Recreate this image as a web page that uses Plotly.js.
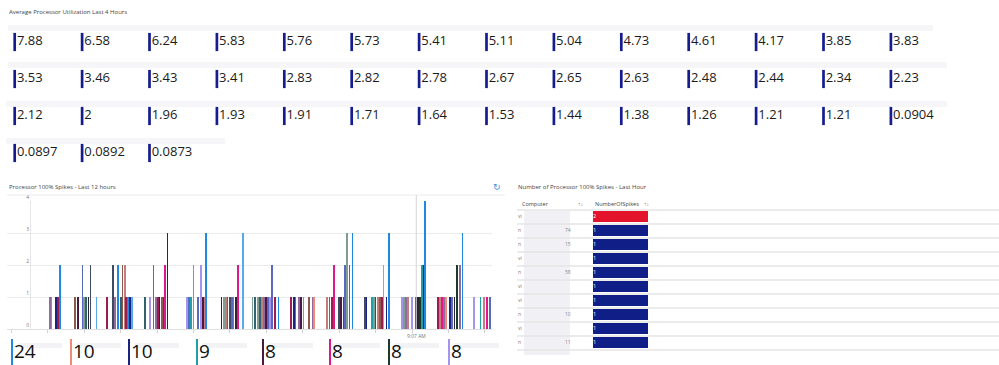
<!DOCTYPE html>
<html><head><meta charset="utf-8">
<script src="https://cdn.plot.ly/plotly-3.0.1.min.js"></script>
<style>html,body{margin:0;padding:0;background:#fff;overflow:hidden}#chart{width:999px;height:365px}</style>
</head><body><div id="chart"></div>
<script>
// ================= DATA =================
// Top tiles: average processor utilization (last 4 hours), sorted
const utilValues = [7.88,6.58,6.24,5.83,5.76,5.73,5.41,5.11,5.04,4.73,4.61,4.17,3.85,3.83,
  3.53,3.46,3.43,3.41,2.83,2.82,2.78,2.67,2.65,2.63,2.48,2.44,2.34,2.23,
  2.12,2,1.96,1.93,1.91,1.71,1.64,1.53,1.44,1.38,1.26,1.21,1.21,0.0904,
  0.0897,0.0892,0.0873];

// Spikes chart (last 12 hours): time of bar, spike count, series (computer) index
const spikeTime = ["23:03","23:06","23:13","23:16","23:20","23:45","23:49","23:57","00:00","00:03",
  "00:07","00:10","00:20","00:38","00:47","00:51","00:56","01:00","01:03","01:07",
  "01:09","01:12","01:15","01:19","01:40","01:48","01:54","01:58","02:01","02:04",
  "02:08","02:11","02:13","02:17","02:49","02:53","02:56","03:00","03:07","03:12",
  "03:15","03:18","03:21","03:46","03:50","03:53","03:56","04:00","04:03","04:06",
  "04:10","04:13","04:21","04:37","04:41","04:46","04:49","04:53","04:56","05:00",
  "05:03","05:06","05:09","05:14","05:20","05:40","05:45","05:48","05:54","05:57",
  "06:01","06:10","06:16","06:19","06:40","06:44","06:48","06:51","07:00","07:03",
  "07:07","07:10","07:13","07:17","07:22","07:42","07:45","07:54","07:57","08:00",
  "08:04","08:07","08:10","08:13","08:18","08:22","08:44","08:47","08:50","08:54",
  "09:00","09:07","09:10","09:13","09:17","09:19","09:22","09:43","09:46","09:50",
  "09:53","09:56","10:03","10:06","10:10","10:14","10:19","10:23","10:42","10:53",
  "10:58","11:03","11:08"];
const spikeCount = [1,1,1,1,2,1,1,2,1,1,
  1,2,1,1,2,1,2,1,2,2,
  1,1,1,1,1,1,2,1,1,1,
  1,1,2,3,1,1,1,2,1,2,
  1,1,3,1,1,1,1,1,1,1,
  1,2,3,1,1,1,1,1,1,1,
  1,1,2,1,1,1,1,1,1,1,
  1,1,1,1,1,1,1,2,1,1,
  1,2,3,2,3,1,1,1,1,1,
  1,1,1,2,1,3,1,1,1,1,
  1,1,1,1,2,2,4,1,1,1,
  1,1,1,1,1,2,2,3,1,1,
  1,1,1];
const spikeSeries = [8,12,2,16,0,9,4,13,10,15,
  17,11,14,16,11,8,0,15,9,12,
  16,0,2,14,15,7,13,8,16,2,
  9,11,5,2,7,13,3,10,13,7,
  4,12,0,17,10,12,9,11,13,8,
  17,5,14,10,15,10,15,12,8,4,
  13,7,13,16,0,16,2,13,8,4,
  10,9,8,1,12,9,16,5,11,4,
  11,13,10,9,0,11,2,3,10,11,
  12,9,16,7,2,0,7,10,8,12,
  7,11,17,6,3,2,0,16,12,5,
  8,1,2,13,17,6,8,0,7,3,
  12,5,13];

// Legend of the spikes chart (top computers, total spikes)
const legendCounts = [24,10,10,9,8,8,8,8];
const legendSeries = [0,1,2,3,4,5,6,7];

// Table: number of processor 100% spikes - last hour
const tableComputerPrefix = ["vi","n","n","vi","n","vi","vi","n","vi","n"];
const tableComputerSuffix = ["","74","15","","58","","","10","","11"];
const tableSpikes = [2,1,1,1,1,1,1,1,1,1];

// ================= STYLE =================
const seriesColors = ['#1f88e5','#ef8a76','#1a237e','#1fa0a8','#4a1942','#e0168c','#1c3a2c','#a394ee',
  '#8f6b9e','#8b5a4e','#7f9e8f','#3e4a62','#c47c7c','#5a68c2','#58a9e8','#2e6470','#9c1c4f','#2d2433'];
const FONT = 'Segoe UI, "Open Sans", "Noto Sans", sans-serif';
const W = 999, H = 365;
const px = x => x / W, py = y => 1 - y / H;
const LEGEND_X = [12, 71, 129, 197, 263, 330, 389, 449];
const TILE_PITCH = 67.4, TILE_TEXT_GAP = 2.2;

function toDate(t){ const h = parseInt(t.slice(0,2),10); return (h >= 12 ? '2024-05-12 ' : '2024-05-13 ') + t; }

const traces = [];

// Main bar chart
traces.push({
  type:'bar', x: spikeTime.map(toDate), y: spikeCount,
  marker:{color: spikeSeries.map(s => seriesColors[s]), line:{width:0}},
  width: 175000, xaxis:'x', yaxis:'y', hoverinfo:'skip'
});

// Tiles
const tileCol = utilValues.map((v,i)=> i % 14);
const tileRow = utilValues.map((v,i)=> Math.floor(i / 14));
traces.push({
  type:'scatter', mode:'markers', x: tileCol, y: tileRow, xaxis:'x2', yaxis:'y2',
  marker:{symbol:'line-ns', size:13, line:{width:2.7, color:'#141c8e'}}, hoverinfo:'skip'
});
traces.push({
  type:'scatter', mode:'text', x: tileCol.map(c => c + TILE_TEXT_GAP / TILE_PITCH), y: tileRow, xaxis:'x2', yaxis:'y2',
  text: utilValues.map(v => String(v)), textposition:'middle right',
  textfont:{family:FONT, size:13, color:'#1b1b1b'}, hoverinfo:'skip'
});

// Legend (pixel axes x4/y4)
traces.push({
  type:'scatter', mode:'markers', x: LEGEND_X, y: LEGEND_X.map(()=>353), xaxis:'x4', yaxis:'y4',
  marker:{symbol:'line-ns', size:20, line:{width:2, color: legendSeries.map(s=>seriesColors[s])}}, hoverinfo:'skip'
});
traces.push({
  type:'scatter', mode:'text', x: LEGEND_X.map(v=>v+2), y: LEGEND_X.map(()=>353), xaxis:'x4', yaxis:'y4',
  text: legendCounts.map(String), textposition:'middle right',
  textfont:{family:FONT, size:19, color:'#111'}, hoverinfo:'skip'
});

// Table computer column text
const tRows = tableSpikes.map((v,i)=>i);
traces.push({
  type:'scatter', mode:'text', x: tRows.map(()=>518), y: tRows.map(r=>217+14*r), xaxis:'x4', yaxis:'y4',
  text: tableComputerPrefix, textposition:'middle right',
  textfont:{family:FONT, size:5, color:'#777'}, hoverinfo:'skip'
});
traces.push({
  type:'scatter', mode:'text', x: tRows.map(()=>565), y: tRows.map(r=>217+14*r), xaxis:'x4', yaxis:'y4',
  text: tableComputerSuffix, textposition:'middle right',
  textfont:{family:FONT, size:5, color:'#888'}, hoverinfo:'skip'
});

// Table spikes column (heatmap-coloured cells)
traces.push({
  type:'heatmap', z: tableSpikes.map(v=>[v]), x:[0], y: tRows, xaxis:'x3', yaxis:'y3',
  zmin:1, zmax:2, colorscale:[[0,'#0f1f87'],[1,'#e3132c']], showscale:false, ygap:3, xgap:0, hoverinfo:'skip'
});
traces.push({
  type:'scatter', mode:'text', x: tRows.map(()=>-0.5), y: tRows, xaxis:'x3', yaxis:'y3',
  text: tableSpikes.map(String), textposition:'middle right',
  textfont:{family:FONT, size:5.5, color:'#fff'}, hoverinfo:'skip'
});

// ================= LAYOUT =================
const shapes = [];
// blurred name strips above tiles
[[8,933,25,31],[8,947,62,68],[6,947,101,107],[6,225,138,144]].forEach(r=>{
  shapes.push({type:'rect', xref:'paper', yref:'paper', x0:px(r[0]), x1:px(r[1]), y0:py(r[3]), y1:py(r[2]),
    fillcolor:'#f6f6f8', line:{width:0}, layer:'below'});
});
// blurred legend labels
LEGEND_X.forEach(x=>{
  shapes.push({type:'rect', xref:'paper', yref:'paper', x0:px(x+6), x1:px(x+50), y0:py(348), y1:py(343),
    fillcolor:'#f3f3f6', line:{width:0}, layer:'below'});
});
// blurred table computer column
shapes.push({type:'rect', xref:'paper', yref:'paper', x0:px(524), x1:px(570), y0:py(355), y1:py(211),
  fillcolor:'#f1f1f5', line:{width:0}, layer:'below'});
// chart top border line
shapes.push({type:'line', xref:'paper', yref:'paper', x0:px(7), x1:px(505), y0:py(195), y1:py(195),
  line:{color:'#ececec', width:1}});
// table row lines
for (let k=0;k<=10;k++){
  shapes.push({type:'line', xref:'paper', yref:'paper', x0:px(517), x1:1, y0:py(210+14*k), y1:py(210+14*k),
    line:{color:'#e4e4e4', width:1.3}});
}
// crosshair at 9:07 AM
shapes.push({type:'line', xref:'x', yref:'paper', x0:'2024-05-13 09:07', x1:'2024-05-13 09:07',
  y0:py(329), y1:py(195), line:{color:'#d4d4d4', width:1}});

const annotations = [
  {text:'Average Processor Utilization Last 4 Hours', xref:'paper', yref:'paper', x:px(7), y:py(12),
    xanchor:'left', yanchor:'middle', showarrow:false, font:{family:FONT, size:6, color:'#444'}},
  {text:'Processor 100% Spikes - Last 12 hours', xref:'paper', yref:'paper', x:px(7), y:py(187),
    xanchor:'left', yanchor:'middle', showarrow:false, font:{family:FONT, size:6, color:'#444'}},
  {text:'Number of Processor 100% Spikes - Last Hour', xref:'paper', yref:'paper', x:px(516), y:py(187),
    xanchor:'left', yanchor:'middle', showarrow:false, font:{family:FONT, size:6, color:'#444'}},
  {text:'↻', xref:'paper', yref:'paper', x:px(497), y:py(187), xanchor:'center', yanchor:'middle',
    showarrow:false, font:{family:'DejaVu Sans', size:9, color:'#3a8ee6'}},
  {text:'9:07 AM', xref:'x', yref:'paper', x:'2024-05-13 09:07', y:py(336), xanchor:'center', yanchor:'middle',
    showarrow:false, font:{family:FONT, size:5, color:'#777'}},
  {text:'Computer', xref:'paper', yref:'paper', x:px(520), y:py(204), xanchor:'left', yanchor:'middle',
    showarrow:false, font:{family:FONT, size:5.5, color:'#444'}},
  {text:'↑↓', xref:'paper', yref:'paper', x:px(576), y:py(204), xanchor:'left', yanchor:'middle',
    showarrow:false, font:{family:FONT, size:5, color:'#666'}},
  {text:'NumberOfSpikes', xref:'paper', yref:'paper', x:px(593), y:py(204), xanchor:'left', yanchor:'middle',
    showarrow:false, font:{family:FONT, size:5.5, color:'#444'}},
  {text:'↑↓', xref:'paper', yref:'paper', x:px(642), y:py(204), xanchor:'left', yanchor:'middle',
    showarrow:false, font:{family:FONT, size:5, color:'#666'}}
];

const hidden = {visible:false, showgrid:false, zeroline:false, fixedrange:true};

const layout = {
  width:W, height:H, margin:{l:0,r:0,t:0,b:0},
  paper_bgcolor:'#fff', plot_bgcolor:'rgba(0,0,0,0)',
  showlegend:false, hovermode:false, bargap:0,
  font:{family:FONT},
  xaxis:{type:'date', domain:[px(7), px(492)], range:['2024-05-12 21:52:36','2024-05-13 11:11:48'],
    anchor:'y', showgrid:false, zeroline:false, showline:false, showticklabels:false,
    ticks:'outside', ticklen:3, tickcolor:'#d0d0d0', tickwidth:1, dtick:3600000, tick0:'2024-05-12 23:00'},
  yaxis:{domain:[py(329), py(201)], range:[0,4], dtick:1, anchor:'free', position:px(30),
    showgrid:true, gridcolor:'#ececec', gridwidth:1, zeroline:true, zerolinecolor:'#e0e0e0',
    showline:true, linecolor:'#e6e6e6', linewidth:1, ticks:'', ticklabelposition:'outside top',
    tickfont:{family:FONT, size:5, color:'#777'}},
  xaxis2:Object.assign({domain:[0,1], range:[-14.7/TILE_PITCH, (W-14.7)/TILE_PITCH], anchor:'y2'}, hidden),
  yaxis2:Object.assign({domain:[0,1], range:[(H-42)/37, -42/37], anchor:'x2'}, hidden),
  xaxis3:Object.assign({domain:[px(593), px(648)], range:[-0.5,0.5], anchor:'y3'}, hidden),
  yaxis3:Object.assign({domain:[py(350), py(210)], range:[9.5,-0.5], anchor:'x3'}, hidden),
  xaxis4:Object.assign({domain:[0,1], range:[0,W], anchor:'y4'}, hidden),
  yaxis4:Object.assign({domain:[0,1], range:[H,0], anchor:'x4'}, hidden),
  shapes: shapes, annotations: annotations
};

Plotly.newPlot('chart', traces, layout, {staticPlot:true, displayModeBar:false});
</script></body></html>
